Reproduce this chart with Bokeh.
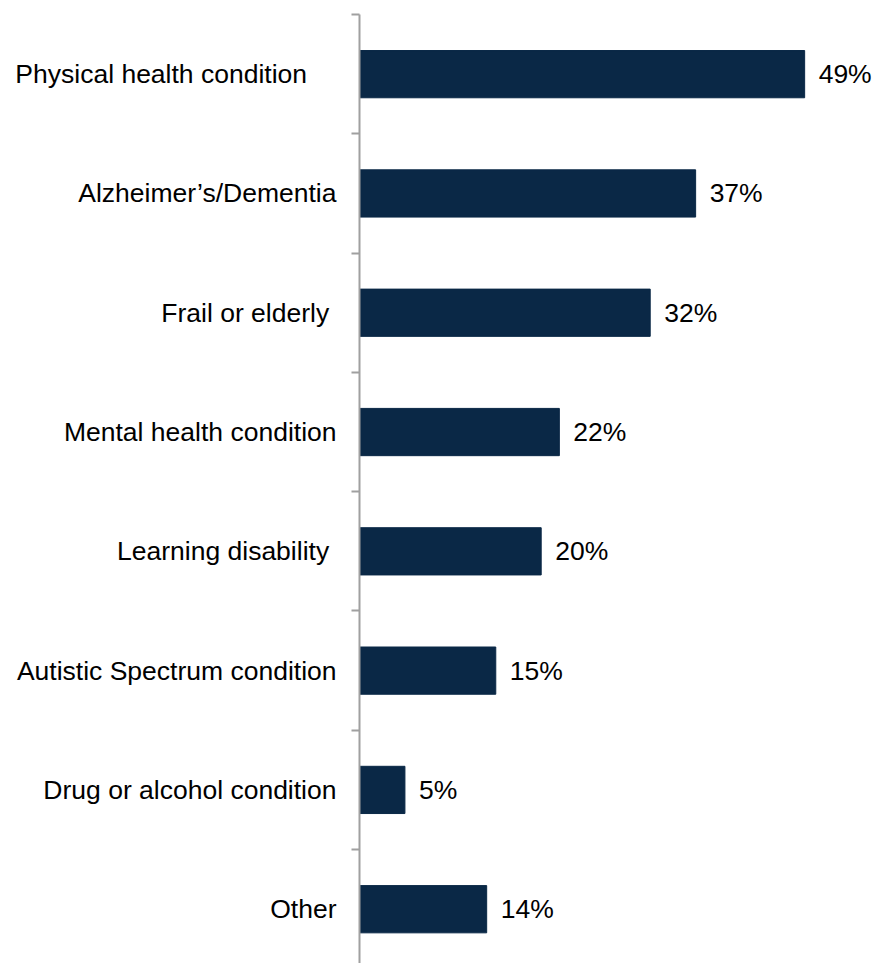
from bokeh.plotting import figure
from bokeh.models import ColumnDataSource, Range1d, FixedTicker
from bokeh.core.properties import value
from bokeh.embed import file_html
from bokeh.resources import INLINE

categories = [
    "Physical health condition\u00a0\u00a0\u00a0\u00a0",
    "Alzheimer\u2019s/Dementia",
    "Frail or elderly\u00a0",
    "Mental health condition",
    "Learning disability\u00a0",
    "Autistic Spectrum condition",
    "Drug or alcohol condition",
    "Other",
]
values = [49, 37, 32, 22, 20, 15, 5, 14]
value_labels = [f"{v}%" for v in values]

pos = list(range(len(categories)))
src = ColumnDataSource(dict(y=pos, v=values, lab=value_labels))

FONT = "Liberation Sans"
BAR = "#0a2846"

p = figure(width=875, height=963, output_backend="svg", toolbar_location=None,
           x_range=Range1d(0, 56.8), y_range=Range1d(7.455, -0.5),
           min_border_left=359, min_border_right=0, min_border_top=14, min_border_bottom=0)

p.hbar(y="y", right="v", left=0, height=0.396, source=src, color=BAR)
p.text(x="v", y="y", text="lab", source=src, x_offset=14,
       text_baseline="middle", text_align="left",
       text_font=value(FONT), text_font_size="26.5px", text_color="black")

p.xaxis.visible = False
p.xgrid.visible = False
p.ygrid.visible = False
p.outline_line_color = None

ax = p.yaxis[0]
ax.ticker = FixedTicker(ticks=pos, minor_ticks=[i - 0.5 for i in pos])
ax.major_label_overrides = {i: c for i, c in enumerate(categories)}
ax.major_tick_line_color = None
ax.major_tick_out = 0
ax.major_tick_in = 0
ax.minor_tick_out = 8
ax.minor_tick_in = 0
ax.minor_tick_line_color = "#a0a0a0"
ax.minor_tick_line_width = 2
ax.axis_line_color = "#a0a0a0"
ax.axis_line_width = 2
ax.major_label_standoff = 15
ax.major_label_text_font = FONT
ax.major_label_text_font_size = "26.5px"
ax.major_label_text_color = "black"

open("out.html", "w").write(file_html(p, INLINE))
